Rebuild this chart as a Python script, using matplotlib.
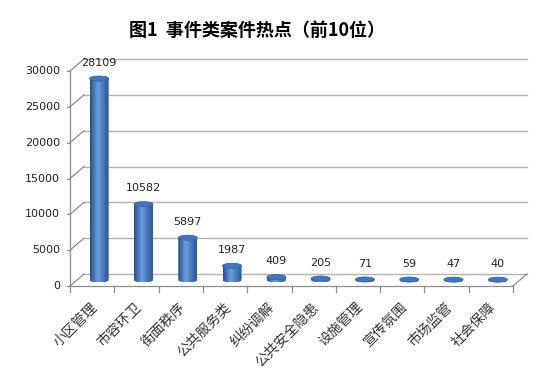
import numpy as np
import matplotlib.pyplot as plt
from matplotlib.patches import Ellipse, Polygon
from matplotlib.colors import LinearSegmentedColormap

categories = ['小区管理', '市容环卫', '街面秩序', '公共服务类', '纠纷调解',
              '公共安全隐患', '设施管理', '宣传氛围', '市场监管', '社会保障']
values = [28109, 10582, 5897, 1987, 409, 205, 71, 59, 47, 40]
yticks = [0, 5000, 10000, 15000, 20000, 25000, 30000]

W, H = 553, 380
fig = plt.figure(figsize=(W / 100, H / 100), dpi=100)
# front plane of the 3d box, in pixels
left, right, bottom, top = 70, 513, 286, 71
ax = fig.add_axes([left / W, 1 - bottom / H, (right - left) / W, (bottom - top) / H])
ax.set_xlim(0, 10)
ax.set_ylim(0, 30000)
ax.axis('off')

pxx = (right - left) / 10.0          # pixels per category
pxy = (bottom - top) / 30000.0       # pixels per unit
dx = 14 / pxx                        # depth offset
dy = 12 / pxy

grid_c = '#b3b3b3'
axis_c = '#8c8c8c'

# back wall gridlines and side wall diagonals
for v in yticks:
    ax.plot([dx, 10 + dx], [v + dy, v + dy], color=grid_c, lw=1.0, clip_on=False, zorder=1)
    ax.plot([0, dx], [v, v + dy], color=axis_c, lw=0.9, clip_on=False, zorder=1)
    ax.plot([-3 / pxx, 0], [v, v], color=axis_c, lw=0.9, clip_on=False, zorder=1)
    ax.text(-10 / pxx, v, str(v), ha='right', va='center', fontsize=8, color='#222222')

ax.plot([0, 0], [0, 30000], color=axis_c, lw=0.9, clip_on=False, zorder=1)
ax.plot([0, 10], [0, 0], color=axis_c, lw=0.9, clip_on=False, zorder=1)
ax.plot([10, 10 + dx], [0, dy], color=axis_c, lw=0.9, clip_on=False, zorder=1)
for i in range(11):
    ax.plot([i, i], [0, -6 / pxy], color=axis_c, lw=0.9, clip_on=False, zorder=1)

# cylinders
cmap = LinearSegmentedColormap.from_list(
    'cyl', [(0, '#28508a'), (0.3, '#5589cc'), (0.42, '#6e9ddc'),
            (0.7, '#4679bc'), (1, '#2a5694')])
grad = np.linspace(0, 1, 64).reshape(1, -1)
bw = 19 / pxx
eh = 5 / pxy
base = dy / 2
for i, v in enumerate(values):
    cx = i + 0.5 + dx / 2
    x0, x1 = cx - bw / 2, cx + bw / 2
    t = base + v
    th = np.linspace(np.pi, 2 * np.pi, 40)
    pts = [(cx + bw / 2 * np.cos(a), base + eh / 2 * np.sin(a)) for a in th]
    pts += [(x1, t), (x0, t)]
    poly = Polygon(pts, closed=True, facecolor='none', edgecolor='none')
    ax.add_patch(poly)
    im = ax.imshow(grad, extent=[x0, x1, base - eh / 2, t], aspect='auto',
                   cmap=cmap, zorder=3, interpolation='bicubic')
    im.set_clip_path(poly)
    ax.add_patch(Ellipse((cx, t), bw, eh, facecolor='#4375b8',
                         edgecolor='#3566a6', lw=0.6, zorder=4))
    ax.annotate(str(v), (cx, t + eh / 2), xytext=(0, 6), textcoords='offset points',
                ha='center', va='bottom', fontsize=8, color='#222222', zorder=5)

ax.set_xlim(0, 10)
ax.set_ylim(0, 30000)

for i, c in enumerate(categories):
    ax.text(i + 0.5 + 3 / pxx, -19 / pxy, c, rotation=45, rotation_mode='anchor',
            ha='right', va='center', fontsize=10, color='#333333',
            family=['Noto Sans CJK SC', 'DejaVu Sans'])

fig.text(0.465, 1 - 30 / H, '图1  事件类案件热点（前10位）', ha='center', va='center',
         fontsize=13, fontweight='bold', family=['Noto Sans CJK SC', 'DejaVu Sans'])

fig.savefig('out.png', dpi=100)
